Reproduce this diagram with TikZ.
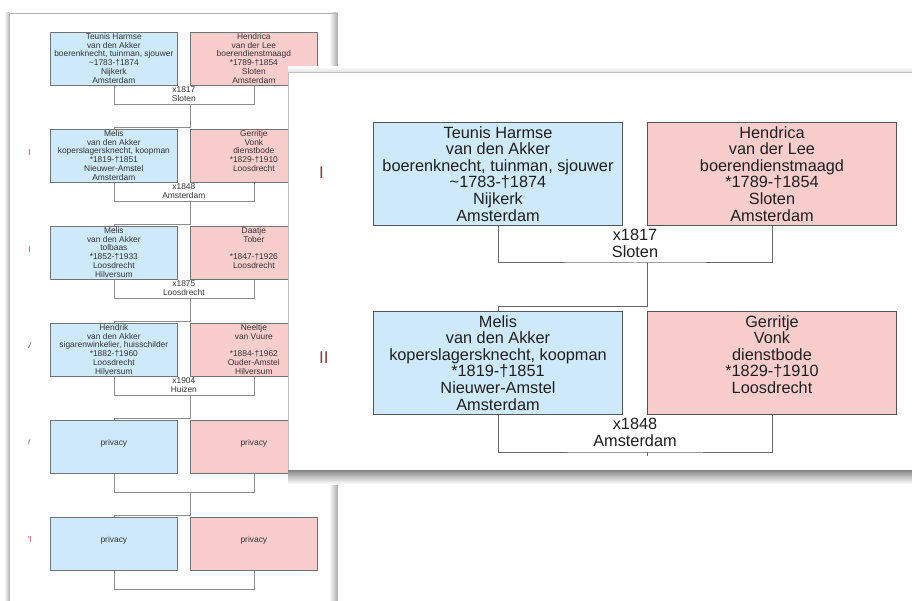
\documentclass[tikz,border=0pt]{standalone}
\usepackage{fontspec}
\setmainfont{Liberation Sans}
\usetikzlibrary{positioning,calc}
\definecolor{manblauw}{RGB}{206,233,250}
\definecolor{vrouwroze}{RGB}{250,205,205}
\definecolor{rand}{RGB}{85,85,85}
\definecolor{romeinrood}{RGB}{140,58,58}
\tikzset{
  persoon/.style={draw=rand, rectangle, anchor=north west, inner sep=0pt},
  groot/.style={persoon, line width=1pt, minimum width=249pt, minimum height=103pt},
  klein/.style={persoon, draw=black!55, line width=0.7pt, minimum width=127pt, minimum height=53pt},
  grootschrift/.style={align=center, inner sep=0pt, text=black!88, font=\fontsize{16.3}{16.6}\selectfont},
  trouwschrift/.style={grootschrift, font=\fontsize{16.3}{17}\selectfont},
  kleinschrift/.style={align=center, inner sep=0pt, text=black!80, font=\fontsize{8.4}{8.8}\selectfont},
  lijn/.style={draw=black!60, line width=1pt},
  dunlijn/.style={draw=black!45, line width=0.7pt},
  romein/.style={inner sep=0pt, text=romeinrood, font=\fontsize{17}{17}\selectfont},
  romeinklein/.style={inner sep=0pt, text=romeinrood!80, font=\fontsize{8.7}{8.7}\selectfont},
}
\begin{document}
\begin{tikzpicture}[x=1pt, y=-1pt]
\useasboundingbox (0,0) rectangle (912,601);

% pagina
\shade[left color=white, right color=black!25] (4,13) rectangle (9,601);
\fill[white] (9,13) rectangle (337,601);
\shade[left color=white, right color=black!30] (329,13) rectangle (337,601);
\draw[black!30, line width=0.6pt] (9,601) -- (9,13) -- (337,13) -- (337,601);

\begin{scope}
\clip (28,13) rectangle (337,601);

% generatie I
\node[klein, fill=manblauw] (m1) at (50,32) {};
\node[kleinschrift, below=1pt of m1.north] (m1t) {Teunis Harmse\\van den Akker\\boerenknecht, tuinman, sjouwer\\\textasciitilde1783-\textdagger1874\\Nijkerk\\Amsterdam};
\node[klein, fill=vrouwroze] (v1) at (190,32) {};
\node[kleinschrift, below=1pt of v1.north] (v1t) {Hendrica\\van der Lee\\boerendienstmaagd\\{}*1789-\textdagger1854\\Sloten\\Amsterdam};
\coordinate (b1) at ($(m1.south)!.5!(v1.south)+(0,19)$);
\node[kleinschrift, anchor=north] (x1) at ($(m1.south)!.5!(v1.south)+(0,1)$) {x1817\\Sloten};

% generatie II
\node[romeinklein, anchor=east] (r2) at (31,153) {II};
\node[klein, fill=manblauw] (m2) at (50,129) {};
\node[kleinschrift, below=1pt of m2.north] (m2t) {Melis\\van den Akker\\koperslagersknecht, koopman\\{}*1819-\textdagger1851\\Nieuwer-Amstel\\Amsterdam};
\node[klein, fill=vrouwroze] (v2) at (190,129) {};
\node[kleinschrift, below=1pt of v2.north] (v2t) {Gerritje\\Vonk\\dienstbode\\{}*1829-\textdagger1910\\Loosdrecht};
\coordinate (b2) at ($(m2.south)!.5!(v2.south)+(0,19)$);
\node[kleinschrift, anchor=north] (x2) at ($(m2.south)!.5!(v2.south)+(0,1)$) {x1848\\Amsterdam};

% generatie III
\node[romeinklein, anchor=east] (r3) at (31,250) {III};
\node[klein, fill=manblauw] (m3) at (50,226) {};
\node[kleinschrift, below=1pt of m3.north] (m3t) {Melis\\van den Akker\\tolbaas\\{}*1852-\textdagger1933\\Loosdrecht\\Hilversum};
\node[klein, fill=vrouwroze] (v3) at (190,226) {};
\node[kleinschrift, below=1pt of v3.north] (v3t) {Daatje\\Tober\\\mbox{}\\{}*1847-\textdagger1926\\Loosdrecht};
\coordinate (b3) at ($(m3.south)!.5!(v3.south)+(0,19)$);
\node[kleinschrift, anchor=north] (x3) at ($(m3.south)!.5!(v3.south)+(0,1)$) {x1875\\Loosdrecht};

% generatie IV
\node[romeinklein, anchor=east] (r4) at (32,346) {IV};
\node[klein, fill=manblauw] (m4) at (50,323) {};
\node[kleinschrift, below=1pt of m4.north] (m4t) {Hendrik\\van den Akker\\sigarenwinkelier, huisschilder\\{}*1882-\textdagger1960\\Loosdrecht\\Hilversum};
\node[klein, fill=vrouwroze] (v4) at (190,323) {};
\node[kleinschrift, below=1pt of v4.north] (v4t) {Neeltje\\van Vuure\\\mbox{}\\{}*1884-\textdagger1962\\Ouder-Amstel\\Hilversum};
\coordinate (b4) at ($(m4.south)!.5!(v4.south)+(0,19)$);
\node[kleinschrift, anchor=north] (x4) at ($(m4.south)!.5!(v4.south)+(0,1)$) {x1904\\Huizen};

% generatie V
\node[romeinklein, anchor=east] (r5) at (31,443) {V};
\node[klein, fill=manblauw] (m5) at (50,420) {};
\node[kleinschrift, below=19pt of m5.north] (m5t) {privacy};
\node[klein, fill=vrouwroze] (v5) at (190,420) {};
\node[kleinschrift, below=19pt of v5.north] (v5t) {privacy};
\coordinate (b5) at ($(m5.south)!.5!(v5.south)+(0,19)$);

% generatie VI
\node[romeinklein, anchor=east] (r6) at (32,540) {VI};
\node[klein, fill=manblauw] (m6) at (50,517) {};
\node[kleinschrift, below=19pt of m6.north] (m6t) {privacy};
\node[klein, fill=vrouwroze] (v6) at (190,517) {};
\node[kleinschrift, below=19pt of v6.north] (v6t) {privacy};
\coordinate (b6) at ($(m6.south)!.5!(v6.south)+(0,19)$);

% huwelijken en kinderen
\draw[dunlijn] (m1.south) |- (b1) -| (v1.south);
\draw[dunlijn] (m2.south) |- (b2) -| (v2.south);
\draw[dunlijn] (m3.south) |- (b3) -| (v3.south);
\draw[dunlijn] (m4.south) |- (b4) -| (v4.south);
\draw[dunlijn] (m5.south) |- (b5) -| (v5.south);
\draw[dunlijn] (m6.south) |- (b6) -| (v6.south);
\coordinate[above=2pt of m2.north] (k2);
\coordinate[above=2pt of m3.north] (k3);
\coordinate[above=2pt of m4.north] (k4);
\coordinate[above=2pt of m5.north] (k5);
\coordinate[above=2pt of m6.north] (k6);
\draw[dunlijn] (v1.south west |- b1) |- (k2) -- (m2.north);
\draw[dunlijn] (v2.south west |- b2) |- (k3) -- (m3.north);
\draw[dunlijn] (v3.south west |- b3) |- (k4) -- (m4.north);
\draw[dunlijn] (v4.south west |- b4) |- (k5) -- (m5.north);
\draw[dunlijn] (v5.south west |- b5) |- (k6) -- (m6.north);
\end{scope}

% uitvergroting
\shade[top color=black!55, bottom color=white] (288,468) rectangle (912,484);
\shade[top color=white, bottom color=black!12] (288,67) rectangle (912,72);
\fill[white] (288,72) rectangle (912,470);
\draw[black!25, line width=0.6pt] (912,72) -- (288,72) -- (288,470);

\node[romein, anchor=west] (zr1) at (319,173) {I};
\node[groot, fill=manblauw] (zm1) at (373,122) {};
\node[grootschrift, below=4pt of zm1.north] (zm1t) {Teunis Harmse\\van den Akker\\boerenknecht, tuinman, sjouwer\\\textasciitilde1783-\textdagger1874\\Nijkerk\\Amsterdam};
\node[groot, fill=vrouwroze] (zv1) at (647,122) {};
\node[grootschrift, below=4pt of zv1.north] (zv1t) {Hendrica\\van der Lee\\boerendienstmaagd\\{}*1789-\textdagger1854\\Sloten\\Amsterdam};
\coordinate (zb1) at ($(zm1.south)!.5!(zv1.south)+(0,37)$);
\node[trouwschrift, anchor=north] (zx1) at ($(zm1.south)!.5!(zv1.south)+(0,3)$) {x1817\\Sloten};

\node[romein, anchor=west] (zr2) at (319,358) {II};
\node[groot, fill=manblauw] (zm2) at (373,311) {};
\node[grootschrift, below=4pt of zm2.north] (zm2t) {Melis\\van den Akker\\koperslagersknecht, koopman\\{}*1819-\textdagger1851\\Nieuwer-Amstel\\Amsterdam};
\node[groot, fill=vrouwroze] (zv2) at (647,311) {};
\node[grootschrift, below=4pt of zv2.north] (zv2t) {Gerritje\\Vonk\\dienstbode\\{}*1829-\textdagger1910\\Loosdrecht};
\coordinate (zb2) at ($(zm2.south)!.5!(zv2.south)+(0,37)$);
\node[trouwschrift, anchor=north] (zx2) at ($(zm2.south)!.5!(zv2.south)+(0,3)$) {x1848\\Amsterdam};

\draw[lijn] (zm1.south) |- (zb1) -| (zv1.south);
\draw[lijn] (zm2.south) |- (zb2) -| (zv2.south);
\coordinate[above=4pt of zm2.north] (zk2);
\draw[lijn] (zv1.south west |- zb1) |- (zk2) -- (zm2.north);
\coordinate (zk3) at ($(zv2.south west |- zb2)+(0,4)$);
\draw[lijn] (zv2.south west |- zb2) -- (zk3);

\end{tikzpicture}
\end{document}
